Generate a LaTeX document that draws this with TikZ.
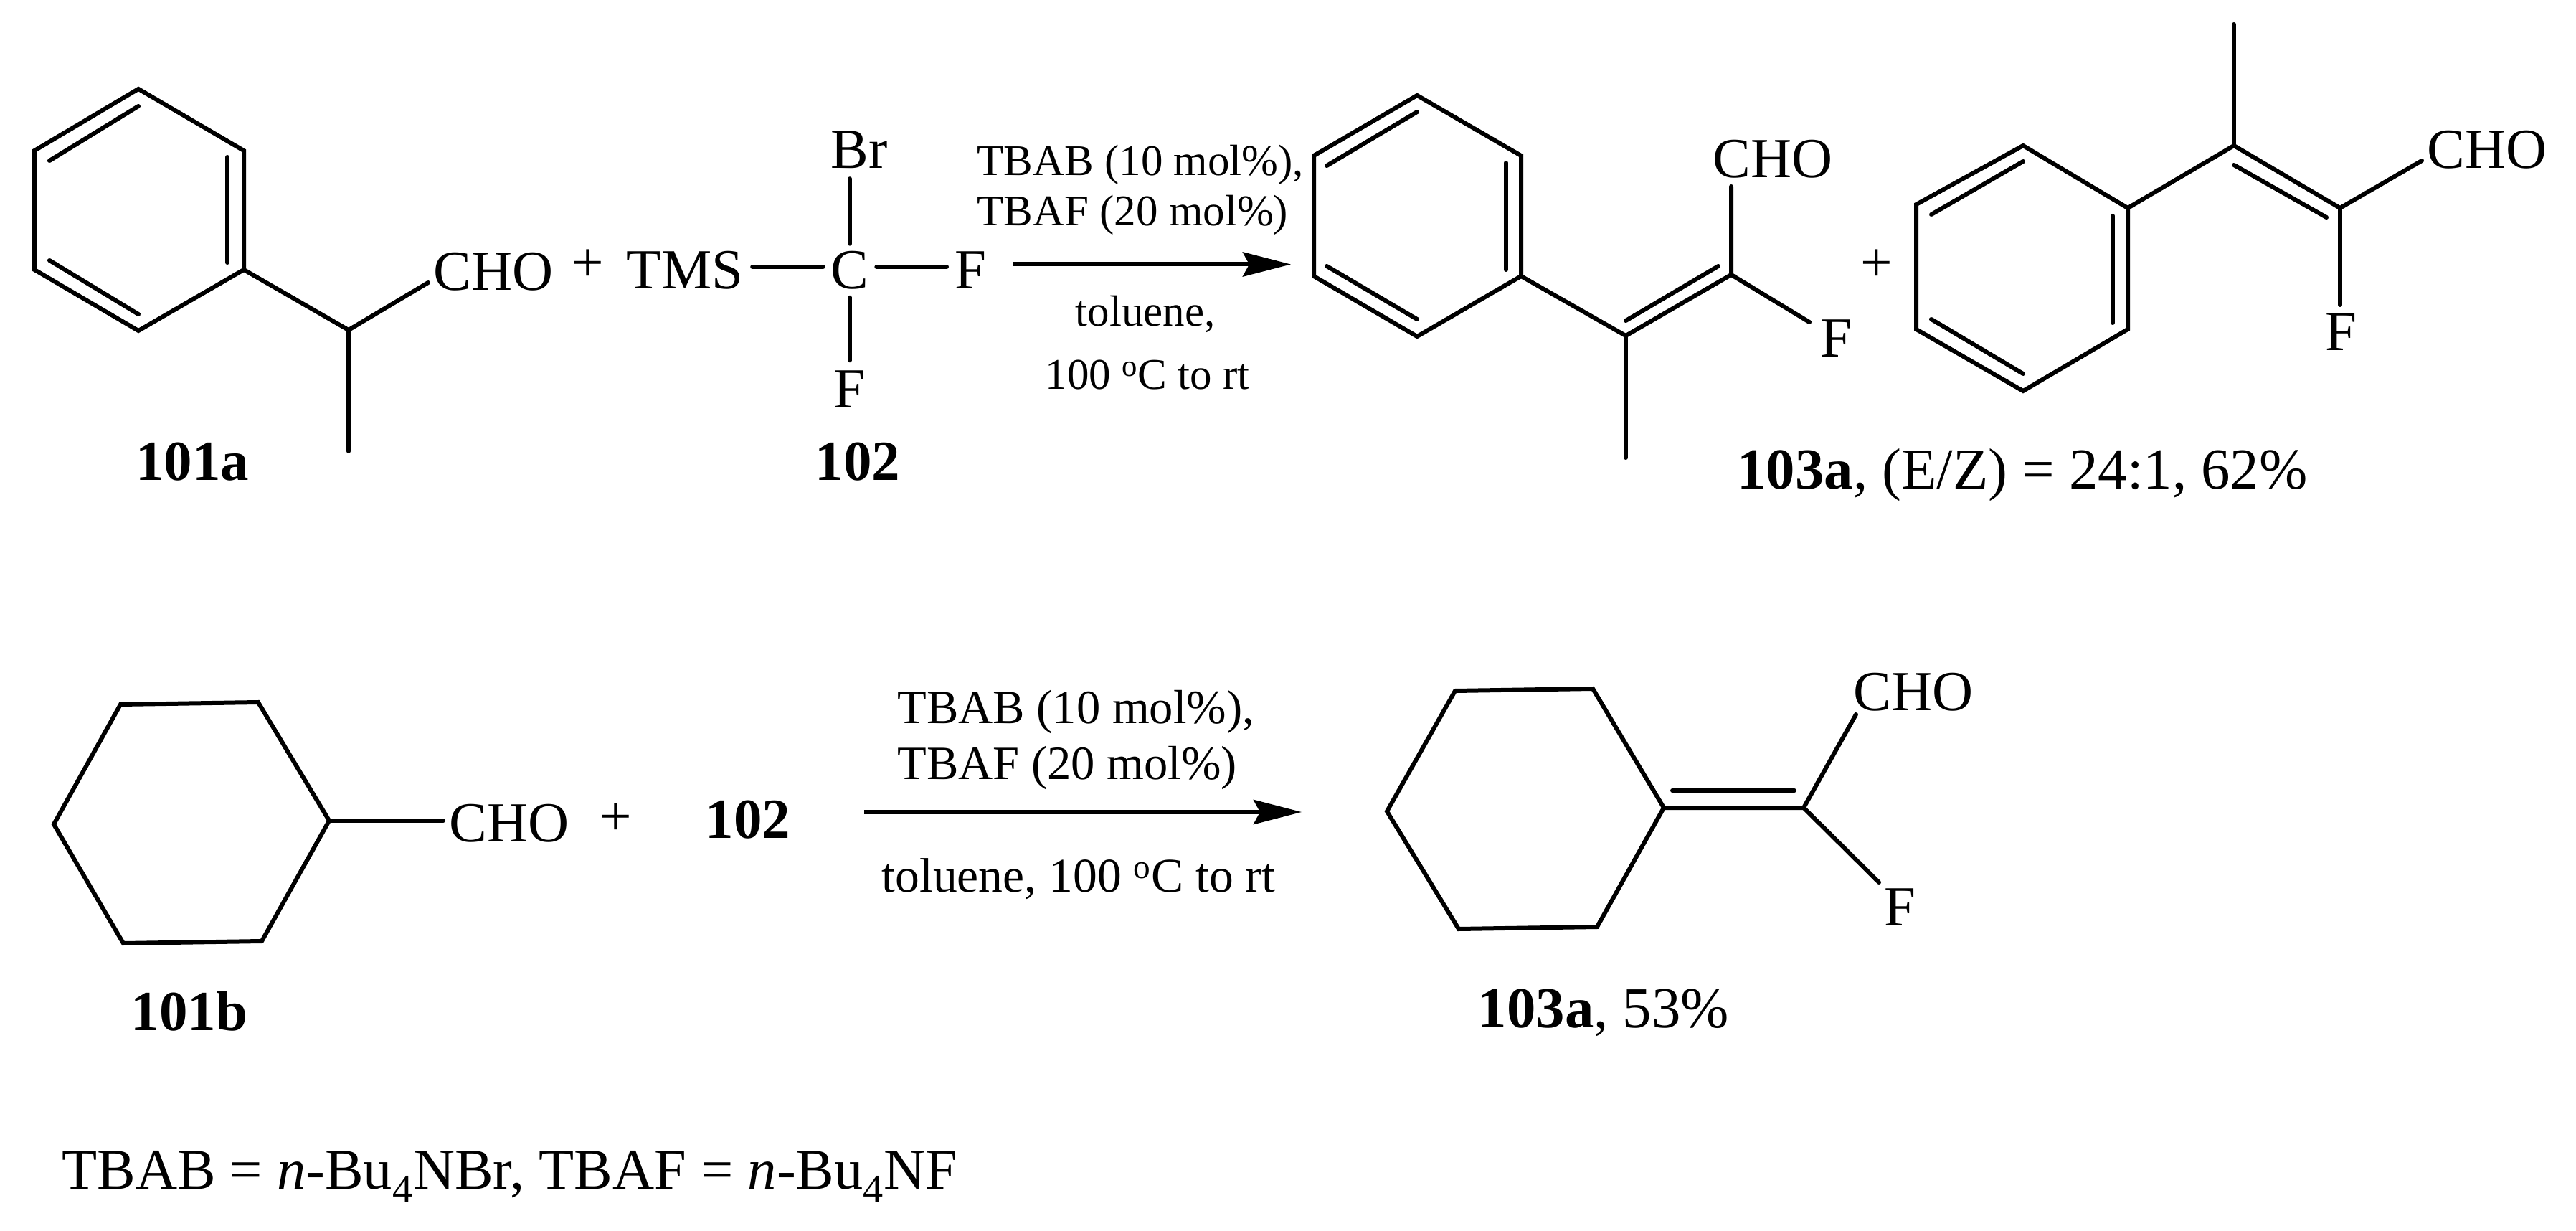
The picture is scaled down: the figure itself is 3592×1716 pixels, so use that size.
\documentclass[tikz,border=0pt]{standalone}
\usepackage{fontspec}
\setmainfont{Liberation Serif}
\usetikzlibrary{arrows.meta}
\newcommand\fa{\fontsize{39.5}{46}\selectfont}
\newcommand\fb{\fontsize{30.5}{36}\selectfont}
\newcommand\fc{\fontsize{33.3}{39}\selectfont}
\newcommand\fd{\fontsize{40.2}{48}\selectfont}
\newcommand\fe{\fontsize{40.4}{48}\selectfont}
\newcommand\ff{\fontsize{33.8}{40}\selectfont}
\tikzset{
  bond/.style={line width=3pt,line cap=round,line join=miter,black},
  rxnarrow/.style={line width=3pt,black,-{Stealth[length=33.5pt,width=17pt,inset=4.5pt]}},
  lab/.style={anchor=base,inner sep=0pt,outer sep=0pt,text=black,font=\fa},
  atomlab/.style={lab,outer sep=5.5pt},
  rga/.style={anchor=base west,inner sep=0pt,text=black,font=\fb},
  rgac/.style={anchor=base,inner sep=0pt,text=black,font=\fb},
  rgb/.style={anchor=base west,inner sep=0pt,text=black,font=\fc},
  rgbc/.style={anchor=base,inner sep=0pt,text=black,font=\ff}
}
\begin{document}
\begin{tikzpicture}[x=0.5pt,y=-0.5pt]
\useasboundingbox[fill=white] (0,0) rectangle (3592,1716);

% --- 101a
\coordinate (a1) at (193,124); \coordinate (a2) at (340,210); \coordinate (a3) at (340,376);
\coordinate (a4) at (193,461); \coordinate (a5) at (48,376);  \coordinate (a6) at (48,210);
\draw[bond] (a1)--(a2)--(a3)--(a4)--(a5)--(a6)--cycle;
\coordinate (ai1) at (69,224);  \coordinate (ai2) at (193,148);
\coordinate (ai3) at (317,219); \coordinate (ai4) at (317,366);
\coordinate (ai5) at (69,363);  \coordinate (ai6) at (193,438);
\draw[bond] (ai1)--(ai2); \draw[bond] (ai3)--(ai4); \draw[bond] (ai5)--(ai6);
\coordinate (ach) at (486,460); \coordinate (ame) at (486,629); \coordinate (acho) at (597,394);
\draw[bond] (a3)--(ach)--(acho); \draw[bond] (ach)--(ame);
\node[lab] (t101aCHO) at (688,405) {CHO};
\node[lab] (tplus1) at (820,393) {+};
\node[lab] (t101a) at (268,670) {\textbf{101a}};

% --- 102
\coordinate (row) at (0,372);
\node[atomlab,outer sep=6.5pt] (tms) at (955,403) {TMS};
\node[atomlab] (cc) at (1185,403) {C};
\node[atomlab] (fr) at (1353,403) {F};
\node[atomlab,outer sep=7pt] (br) at (1198,235) {Br};
\node[atomlab,outer sep=7.5pt] (fb) at (1184,569) {F};
\node[lab] (t102) at (1196,670) {\textbf{102}};
\draw[bond] (tms.east |- row)--(cc.west |- row);
\draw[bond] (cc.east |- row)--(fr.west |- row);
\draw[bond] (cc.north)--(cc.north |- br.south);
\draw[bond] (cc.south)--(cc.south |- fb.north);

% --- top arrow
\coordinate (ar1s) at (1412,368.5); \coordinate (ar1e) at (1800,368.5);
\draw[rxnarrow] (ar1s)--(ar1e);
\node[rga] (r1) at (1362,245) {TBAB (10 mol\%),};
\node[rga] (r2) at (1362,315) {TBAF (20 mol\%)};
\node[rgac] (r3) at (1597,455) {toluene,};
\node[rgac] (r4) at (1600,543) {100 \textsuperscript{o}C to rt};

% --- 103a (E)
\coordinate (b1) at (1976,133); \coordinate (b2) at (2121,217); \coordinate (b3) at (2121,385);
\coordinate (b4) at (1976,469); \coordinate (b5) at (1832,385); \coordinate (b6) at (1832,217);
\draw[bond] (b1)--(b2)--(b3)--(b4)--(b5)--(b6)--cycle;
\coordinate (bi1) at (1850,231); \coordinate (bi2) at (1976,156);
\coordinate (bi3) at (2100,227); \coordinate (bi4) at (2100,376);
\coordinate (bi5) at (1850,371); \coordinate (bi6) at (1976,445);
\draw[bond] (bi1)--(bi2); \draw[bond] (bi3)--(bi4); \draw[bond] (bi5)--(bi6);
\coordinate (bc1) at (2267,468); \coordinate (bme) at (2267,638); \coordinate (bc2) at (2414,383);
\coordinate (bd1) at (2267,447); \coordinate (bd2) at (2396,371);
\coordinate (bcho) at (2414,260); \coordinate (bf) at (2523,449);
\draw[bond] (b3)--(bc1)--(bc2)--(bcho); \draw[bond] (bc1)--(bme);
\draw[bond] (bd1)--(bd2); \draw[bond] (bc2)--(bf);
\node[lab] (tbcho) at (2472,248) {CHO};
\node[lab] (tbf) at (2560,498) {F};
\node[lab] (tplus2) at (2617,393) {+};

% --- 103a (Z)
\coordinate (c1) at (2821,203); \coordinate (c2) at (2967,290); \coordinate (c3) at (2967,459);
\coordinate (c4) at (2821,545); \coordinate (c5) at (2672,459); \coordinate (c6) at (2672,285);
\draw[bond] (c1)--(c2)--(c3)--(c4)--(c5)--(c6)--cycle;
\coordinate (ci1) at (2693,299); \coordinate (ci2) at (2821,225);
\coordinate (ci3) at (2946,301); \coordinate (ci4) at (2946,450);
\coordinate (ci5) at (2693,445); \coordinate (ci6) at (2821,521);
\draw[bond] (ci1)--(ci2); \draw[bond] (ci3)--(ci4); \draw[bond] (ci5)--(ci6);
\coordinate (cc1) at (3115,203); \coordinate (cme) at (3115,34); \coordinate (cc2) at (3263,290);
\coordinate (cd1) at (3115,230); \coordinate (cd2) at (3244,303);
\coordinate (ccho) at (3377,224); \coordinate (cf) at (3263,425);
\draw[bond] (c2)--(cc1)--(cc2)--(ccho); \draw[bond] (cc1)--(cme);
\draw[bond] (cd1)--(cd2); \draw[bond] (cc2)--(cf);
\node[lab] (tccho) at (3468,235) {CHO};
\node[lab] (tcf) at (3264,489) {F};
\node[lab,font=\fe] (t103a) at (2820,682) {\textbf{103a}, (E/Z) = 24:1, 62\%};

% --- 101b
\coordinate (d1) at (168,982);  \coordinate (d2) at (360,979);  \coordinate (d3) at (459,1144);
\coordinate (d4) at (365,1312); \coordinate (d5) at (172,1315); \coordinate (d6) at (75,1149);
\draw[bond] (d1)--(d2)--(d3)--(d4)--(d5)--(d6)--cycle;
\coordinate (dcho) at (618,1144);
\draw[bond] (d3)--(dcho);
\node[lab] (tdcho) at (710,1173) {CHO};
\node[lab] (tplus3) at (859,1164) {+};
\node[lab] (t102b) at (1043,1168) {\textbf{102}};
\node[lab] (t101b) at (264,1436) {\textbf{101b}};

% --- lower arrow
\coordinate (ar2s) at (1205,1132); \coordinate (ar2e) at (1815,1132);
\draw[rxnarrow] (ar2s)--(ar2e);
\node[rgb] (s1) at (1251,1008) {TBAB (10 mol\%),};
\node[rgb] (s2) at (1251,1086) {TBAF (20 mol\%)};
\node[rgbc] (s3) at (1504,1243) {toluene, 100 \textsuperscript{o}C to rt};

% --- product 103a lower
\coordinate (e1) at (2029,963);  \coordinate (e2) at (2221,960);  \coordinate (e3) at (2320,1126);
\coordinate (e4) at (2227,1292); \coordinate (e5) at (2034,1295); \coordinate (e6) at (1934,1131);
\draw[bond] (e1)--(e2)--(e3)--(e4)--(e5)--(e6)--cycle;
\coordinate (ec) at (2515,1126); \coordinate (ei1) at (2332,1102); \coordinate (ei2) at (2502,1102);
\coordinate (echo) at (2588,996); \coordinate (ef) at (2620,1230);
\draw[bond] (e3)--(ec)--(echo); \draw[bond] (ec)--(ef); \draw[bond] (ei1)--(ei2);
\node[lab] (techo) at (2668,990) {CHO};
\node[lab] (tef) at (2649,1290) {F};
\node[lab,font=\fe] (t103b) at (2236,1432) {\textbf{103a}, 53\%};

% --- footnote
\node[anchor=base west,inner sep=0pt,text=black,font=\fd] (foot) at (86,1657)
  {TBAB = \textit{n}-Bu\textsubscript{4}NBr, TBAF = \textit{n}-Bu\textsubscript{4}NF};
\end{tikzpicture}
\end{document}
